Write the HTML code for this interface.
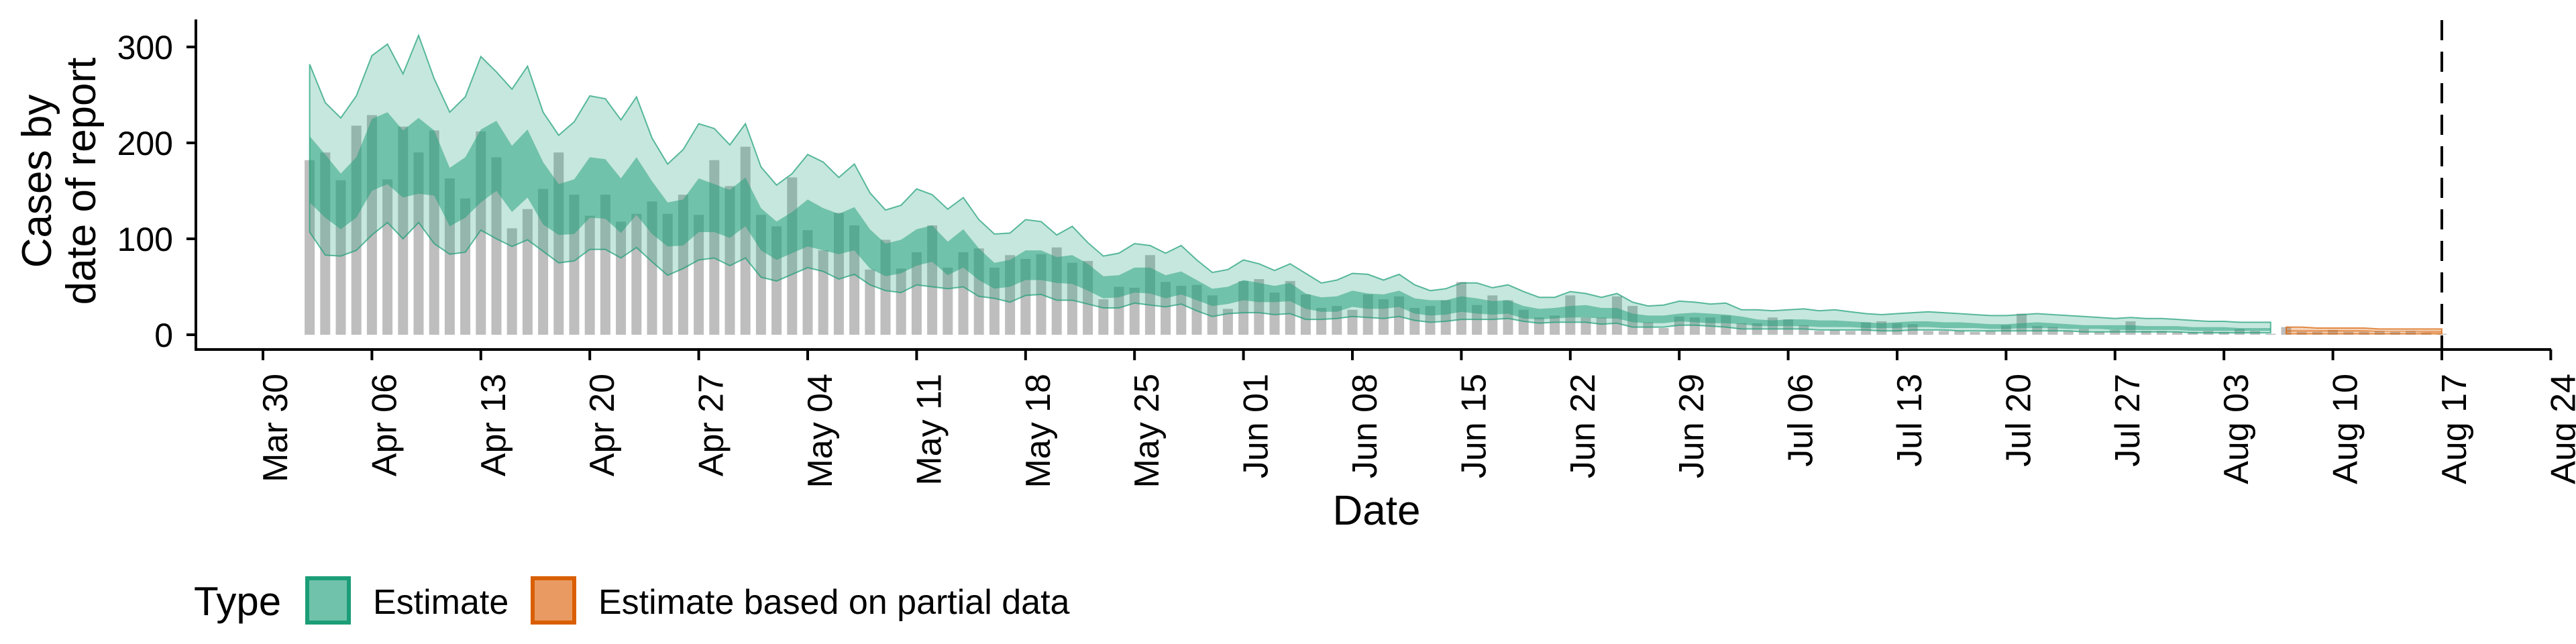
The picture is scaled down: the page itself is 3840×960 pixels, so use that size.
<!DOCTYPE html>
<html><head><meta charset="utf-8"><style>
html,body{margin:0;padding:0;background:#fff;}
svg{display:block;font-family:"Liberation Sans",Arial,sans-serif;}
</style></head><body>
<svg id="chart" width="3840" height="960" viewBox="0 0 3840 960" xmlns="http://www.w3.org/2000/svg">
<g id="bars"></g>
<g id="ribbons"></g>
<g id="axes"></g>
<g id="legend" transform="translate(0,-6)">
  <text x="289" y="923" font-size="60">Type</text>
  <rect x="458" y="868" width="62" height="66" fill="#70c2aa" stroke="#1b9e77" stroke-width="6"/>
  <text x="556" y="921" font-size="52">Estimate</text>
  <rect x="794" y="868" width="62" height="66" fill="#e89a62" stroke="#d95f02" stroke-width="6"/>
  <text x="892" y="921" font-size="52">Estimate based on partial data</text>
</g>
</svg>
<script>
// day index = days since Mar 30
const barStartDay = 3;
const barValues = [182,190,161,218,229,162,217,190,213,163,142,212,185,111,131,152,190,146,124,146,118,126,139,126,146,125,182,155,196,125,113,164,109,88,127,114,68,
99,69,86,114,70,86,90,70,83,79,84,91,75,77,37,50,49,83,55,51,52,41,27,56,58,44,56,42,28,30,26,42,37,40,28,30,36,55,31,41,36,26,18,20,41,18,18,40,30,13,7,19,18,18,20,12,
12,18,16,10,4,5,4,13,14,12,11,4,4,4,3,4,10,22,9,8,4,6,3,5,14,4,4,3,3,4,3,6,4,1,
8,3,3,5,3,3,4,3,4,2,1];
const estStartDay = 3;
const upper90 = [282,242,226,249,291,303,272,312,267,232,248,290,274,256,280,232,208,222,249,246,224,248,205,178,193,220,215,198,220,175,156,168,188,180,164,178,148,
130,135,152,146,131,143,120,105,106,120,118,104,113,96,82,85,95,93,85,93,78,65,68,78,74,67,74,64,54,57,64,63,57,63,52,46,48,54,54,49,52,45,39,39,45,43,39,43,34,30,31,35,34,32,33,26,
26,25,26,27,25,26,24,22,21,22,23,24,23,22,21,20,20,21,22,21,20,19,18,17,18,17,17,16,15,14,14,13,13,13];
const upper50 = [207,188,168,185,225,232,213,226,213,174,185,214,223,197,214,180,157,162,185,183,163,185,160,138,141,163,157,151,164,132,118,128,141,132,126,133,110,
95,99,110,114,97,110,90,75,78,88,88,81,83,74,61,62,70,70,62,66,57,48,50,57,54,51,54,43,39,40,46,43,42,46,38,36,36,40,38,35,36,30,27,28,30,31,28,28,22,20,20,22,23,22,21,19,
16,15,16,16,15,15,14,13,12,13,14,14,13,13,12,11,11,12,13,12,11,10,10,10,10,9,9,9,8,8,8,7,7,7];
const lower50 = [138,122,110,122,150,157,143,147,145,113,122,138,150,128,143,115,104,105,122,121,106,125,105,92,93,107,107,101,113,88,78,85,92,88,84,88,69,
61,64,72,76,62,70,57,48,50,57,57,54,53,46,38,39,44,43,38,42,36,30,32,36,34,34,35,27,24,24,29,27,27,29,22,20,21,24,22,21,22,17,16,17,18,18,17,17,13,12,12,14,13,12,12,11,
9,9,9,9,8,8,8,7,7,7,8,8,7,7,7,6,6,7,7,7,6,6,6,5,5,5,5,5,4,4,4,4,4,4];
const lower90 = [107,83,82,88,104,117,100,117,95,84,86,109,100,92,99,87,75,77,89,89,80,91,76,62,69,78,80,72,80,60,56,63,70,66,58,63,52,
46,44,52,50,48,50,40,38,34,41,42,36,36,32,28,28,33,31,29,32,25,19,22,23,23,21,22,16,16,17,19,18,17,19,15,13,14,16,16,16,17,14,12,13,13,13,11,12,8,8,8,10,10,9,8,6,
6,6,6,6,5,5,5,5,4,4,5,5,5,4,4,4,4,4,4,4,4,3,3,3,3,3,3,3,2,2,2,2,2,2];
const partialStartDay = 130;
const pUpper90 = [8,8,7,7,7,7,6,6,6,6,6];
const pUpper50 = [5,5,5,5,5,5,4,4,4,4,4];
const pLower50 = [3,3,3,3,3,3,3,3,3,2,2];
const pLower90 = [1,1,1,1,1,1,1,1,1,1,1];
const yTicks = [0,100,200,300];
const xTickLabels = ["Mar 30","Apr 06","Apr 13","Apr 20","Apr 27","May 04","May 11","May 18","May 25","Jun 01","Jun 08","Jun 15","Jun 22","Jun 29","Jul 06","Jul 13","Jul 20","Jul 27","Aug 03","Aug 10","Aug 17","Aug 24"];
const forecastDay = 140;

const NS = "http://www.w3.org/2000/svg";
const X0 = 392, DAY = 23.2, Y0 = 499, YS = 1.43;
function xs(d){ return X0 + d*DAY; }
function ys(v){ return Y0 - v*YS; }
function mk(tag, attrs, parent){ const e=document.createElementNS(NS,tag); for(const k in attrs) e.setAttribute(k,attrs[k]); parent.appendChild(e); return e; }

const gB = document.getElementById('bars');
barValues.forEach((v,i)=>{
  const d = barStartDay+i, w = 15;
  const r = mk('rect',{x:xs(d)-w/2,y:ys(v),width:w,height:Math.max(0,Y0-ys(v)),fill:'#bebebe'},gB);
  
  
});

const gR = document.getElementById('ribbons');
function band(start, up, lo, fill, op, stroke, name){
  let p = '';
  up.forEach((v,i)=>{ p += (i?'L':'M') + xs(start+i).toFixed(1) + ',' + ys(v).toFixed(1); });
  for(let i=lo.length-1;i>=0;i--) p += 'L' + xs(start+i).toFixed(1) + ',' + ys(lo[i]).toFixed(1);
  p += 'Z';
  const e = mk('path',{d:p,fill:fill,'fill-opacity':op,stroke:stroke||'none','stroke-width':2,'stroke-opacity':0.7},gR);
  
  
}
band(estStartDay, upper90, lower90, '#1b9e77', 0.25, '#1b9e77', 'estimate-90-ribbon');
band(estStartDay, upper50, lower50, '#1b9e77', 0.5, null, 'estimate-50-ribbon');
band(partialStartDay, pUpper90, pLower90, '#d95f02', 0.25, '#d95f02', 'partial-90-ribbon');
band(partialStartDay, pUpper50, pLower50, '#d95f02', 0.5, null, 'partial-50-ribbon');

const gA = document.getElementById('axes');
let e;
e = mk('line',{x1:292,y1:29,x2:292,y2:523,stroke:'#000','stroke-width':4},gA);
 
e = mk('line',{x1:290,y1:521,x2:3803,y2:521,stroke:'#000','stroke-width':4},gA);
 
yTicks.forEach(v=>{
  const t = mk('line',{x1:278,y1:ys(v),x2:292,y2:ys(v),stroke:'#000','stroke-width':4},gA);
   
  const l = mk('text',{x:258,y:ys(v)+18,'font-size':50,'text-anchor':'end'},gA);
  l.textContent = v;
   
});
xTickLabels.forEach((lab,i)=>{
  const x = xs(i*7);
  const t = mk('line',{x1:x,y1:521,x2:x,y2:537,stroke:'#000','stroke-width':4},gA);
   
  const l = mk('text',{x:0,y:0,'font-size':52,'text-anchor':'end',transform:`translate(${x+36},557) rotate(-90)`},gA);
  l.textContent = lab;
   
});
e = mk('line',{x1:xs(forecastDay),y1:30,x2:xs(forecastDay),y2:521,stroke:'#000','stroke-width':4,'stroke-dasharray':'30,17'},gA);
 
e = mk('text',{x:2052,y:782,'font-size':62,'text-anchor':'middle'},gA);
e.textContent = 'Date';
 
const yt = mk('text',{'font-size':62,'text-anchor':'middle',transform:'translate(0,270) rotate(-90)'},gA);
 
const s1 = mk('tspan',{x:0,y:76},yt); s1.textContent='Cases by';
const s2 = mk('tspan',{x:0,y:142},yt); s2.textContent='date of report';
</script>
</body></html>
